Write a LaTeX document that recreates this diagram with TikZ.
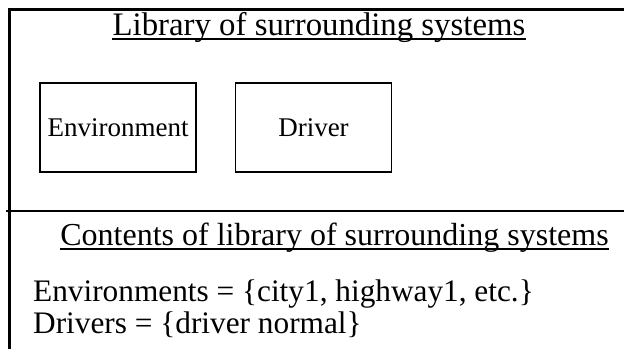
\documentclass[tikz,border=0pt]{standalone}
\usepackage{fontspec}
\setmainfont{Liberation Serif}
\begin{document}
\begin{tikzpicture}[x=1pt,y=-1pt,
  frame/.style={line width=3pt},
  sep/.style={line width=2.5pt},
  libbox/.style={draw,line width=1.5pt,minimum width=156pt,minimum height=89pt,inner sep=0pt,font=\fontsize{27}{32}\selectfont},
  titletxt/.style={inner sep=0pt,font=\fontsize{32.8}{38}\selectfont},
  bigtxt/.style={inner sep=0pt,font=\fontsize{32}{38}\selectfont},
  listtxt/.style={inner sep=0pt,font=\fontsize{31.3}{37}\selectfont},
  uline/.style={line width=1.5pt}]
\useasboundingbox (0,0) rectangle (624,349);
\coordinate (tl) at (9.5,9.5);
\coordinate (tr) at (624,9.5);
\coordinate (bl) at (9.5,349);
\coordinate (ml) at (6,211);
\coordinate (mr) at (624,211);
\draw[frame] (tr) -- (tl) -- (bl);
\draw[sep] (ml) -- (mr);
\node[libbox] (env) at (118,127.5) {Environment};
\node[libbox] (drv) at (313.5,127.5) {Driver};
\node[titletxt,anchor=base] (title) at (319,35) {Library of surrounding systems};
\draw[uline] ([yshift=-4pt]title.base west) -- ([yshift=-4pt]title.base east);
\node[bigtxt,anchor=base] (cont) at (334.5,245) {Contents of library of surrounding systems};
\draw[uline] ([yshift=-4pt]cont.base west) -- ([yshift=-4pt]cont.base east);
\node[listtxt,anchor=base west] (envs) at (33,301) {Environments = \{city1, highway1, etc.\}};
\node[listtxt,anchor=base west] (drvs) at (33,333) {Drivers = \{driver normal\}};
\end{tikzpicture}
\end{document}
